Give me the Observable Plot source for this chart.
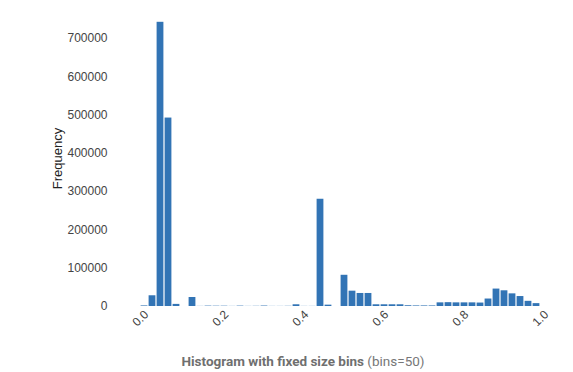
<!DOCTYPE html>
<html>
<head>
<meta charset="utf-8">
<script src="https://cdn.jsdelivr.net/npm/d3@7"></script>
<script src="https://cdn.jsdelivr.net/npm/@observablehq/plot@0.6"></script>
<style>
  html, body { margin: 0; padding: 0; background: #fff; }
  #wrap { position: relative; width: 573px; height: 372px; overflow: hidden; }
  #caption { position: absolute; left: 0; width: 606px; top: 352px; text-align: center;
    font-family: Roboto, "Liberation Sans", sans-serif; font-size: 13.5px; line-height: 18px; color: #777; }
  #caption b { color: #6f6f6f; }
</style>
</head>
<body>
<div id="wrap">
  <div id="chart"></div>
  <div id="caption"><b>Histogram with fixed size bins</b> (bins=50)</div>
</div>
<script>
const binCount = 50;
const binWidth = 0.02;
const counts = [
  1500, 28000, 742000, 492000, 5500, 0, 23500, 300, 1000, 800,
  800, 300, 1000, 300, 500, 1200, 300, 300, 500, 4500,
  300, 300, 280000, 3500, 0, 81500, 40000, 34000, 34000, 4500,
  4500, 4500, 4500, 2000, 1500, 1500, 1500, 9500, 10000, 9500,
  9500, 9500, 9000, 19500, 45500, 41000, 33000, 26000, 13500, 7500
];
const xTicks = [0, 0.2, 0.4, 0.6, 0.8, 1.0];
const yTicks = [0, 100000, 200000, 300000, 400000, 500000, 600000, 700000];
const yLabel = "Frequency";

const bins = counts.map((c, i) => ({x1: i * binWidth, x2: (i + 1) * binWidth, count: c}));

const chart = Plot.plot({
  width: 573,
  height: 345,
  marginLeft: 140,
  marginRight: 33,
  marginTop: 10,
  marginBottom: 39,
  style: {fontFamily: "'Liberation Sans', Arial, sans-serif", fontSize: "12px", color: "#444", background: "#fff"},
  x: {domain: [0, 1], axis: null},
  y: {domain: [0, 772800], axis: null},
  marks: [
    Plot.rectY(bins, {x1: "x1", x2: "x2", y: "count", fill: "#3274b5", insetLeft: 0.6, insetRight: 0.6}),
    Plot.axisY({ticks: yTicks, tickSize: 0, tickPadding: 33, tickFormat: d => String(d), label: null, fill: "#444"}),
    Plot.text(xTicks, {x: d => d, frameAnchor: "bottom", dy: 12, rotate: -45, text: d => d.toFixed(1),
      textAnchor: "middle", lineAnchor: "middle", fill: "#444", fontSize: 12}),
    Plot.text([yLabel], {frameAnchor: "left", dx: -83, rotate: -90, text: d => d, fill: "#222",
      fontSize: 13, textAnchor: "middle", lineAnchor: "middle"})
  ]
});
document.getElementById("chart").appendChild(chart);
</script>
</body>
</html>
